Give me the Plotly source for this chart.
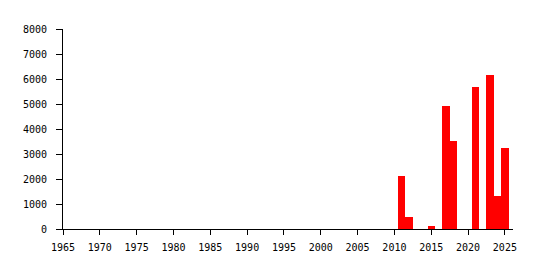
import plotly.graph_objects as go

years = [2011, 2012, 2015, 2017, 2018, 2021, 2023, 2024, 2025]
values = [2120, 480, 120, 4920, 3520, 5680, 6160, 1320, 3240]
x_ticks = list(range(1965, 2026, 5))
y_ticks = list(range(0, 8001, 1000))

fig = go.Figure(go.Bar(x=years, y=values, width=[1] * len(years),
                       marker=dict(color="#ff0000", line=dict(width=0))))

font = dict(family="DejaVu Sans Mono", size=10, color="black")
fig.update_layout(
    width=541, height=270,
    margin=dict(l=63, r=28, t=29, b=41),
    paper_bgcolor="white", plot_bgcolor="white",
    bargap=0, showlegend=False, font=font,
)
fig.update_xaxes(range=[1965, 2026.1], tickvals=x_ticks, ticktext=[str(t) for t in x_ticks],
                 showline=True, linecolor="black", linewidth=1, ticks="outside",
                 ticklen=5, tickcolor="black", showgrid=False, zeroline=False, tickfont=font,
                 ticklabelstandoff=4)
fig.update_yaxes(range=[0, 8000], tickvals=y_ticks, ticktext=[str(t) for t in y_ticks],
                 showline=True, linecolor="black", linewidth=1, ticks="outside",
                 ticklen=6, tickcolor="black", showgrid=False, zeroline=False, tickfont=font,
                 ticklabelstandoff=7)

fig.write_html("out.html")
